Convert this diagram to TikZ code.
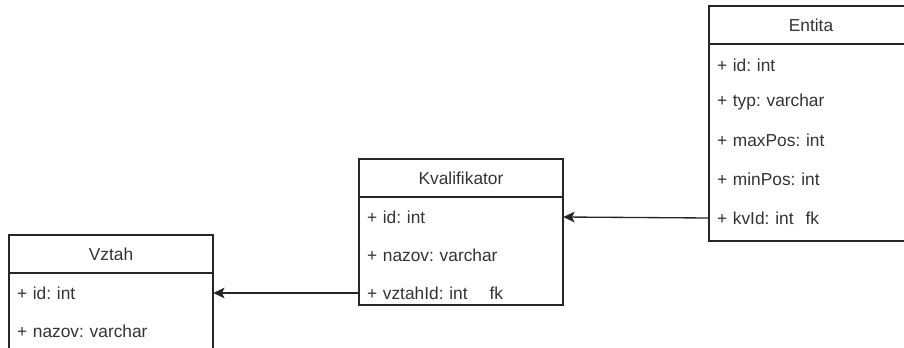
\documentclass[tikz,border=0pt]{standalone}
\usepackage{fontspec}
\setmainfont{Liberation Sans}
\frenchspacing
\usetikzlibrary{positioning,arrows.meta}

\begin{document}
\begin{tikzpicture}[x=0.75pt, y=-0.75pt, >={Stealth[length=8.5pt, width=8pt, inset=2pt]},
    every node/.style={font=\fontsize{13}{15}\selectfont, text=black!80},
    classhead/.style={draw=black!85, line width=1pt, minimum width=153pt, minimum height=28.5pt, inner sep=0pt},
    classbody/.style={draw=black!85, line width=1pt, minimum width=153pt, inner sep=0pt},
    attr/.style={text width=141pt, inner xsep=6pt, inner ysep=0pt, minimum height=28.5pt, align=left}]
      \clip (0,0) rectangle (904,347);

      % Entita
      \node[classhead] (entHead) at (811,25) {Entita};
      \node[classbody, minimum height=147.75pt] (entBody) at (811,142.5) {};
      \node[attr] (entId) at (811,65) {+ id: int};
      \node[attr] (entTyp) at (811,102) {+ typ: varchar};
      \node[attr] (entMax) at (811,140) {+ maxPos: int};
      \node[attr] (entMin) at (811,179) {+ minPos: int};
      \node[attr] (entKv) at (811,218) {+ kvId: int\hspace{9pt}fk};

      % Kvalifikator
      \node[classhead] (kvHead) at (461,178) {Kvalifikator};
      \node[classbody, minimum height=81pt] (kvBody) at (461,251) {};
      \node[attr] (kvId) at (461,217) {+ id: int};
      \node[attr] (kvNazov) at (461,255) {+ nazov: varchar};
      \node[attr] (kvVztah) at (461,293) {+ vztahId: int\hspace{16.5pt}fk};

      % Vztah
      \node[classhead] (vzHead) at (111,254) {Vztah};
      \node[classbody, minimum height=84pt] (vzBody) at (111,329) {};
      \node[attr] (vzId) at (111,293) {+ id: int};
      \node[attr] (vzNazov) at (111,331) {+ nazov: varchar};

      \draw[->, line width=1pt, black!85] (entKv.west) -- (kvId.east);
      \draw[->, line width=1pt, black!85] (kvVztah.west) -- (vzId.east);
    \end{tikzpicture}
\end{document}
